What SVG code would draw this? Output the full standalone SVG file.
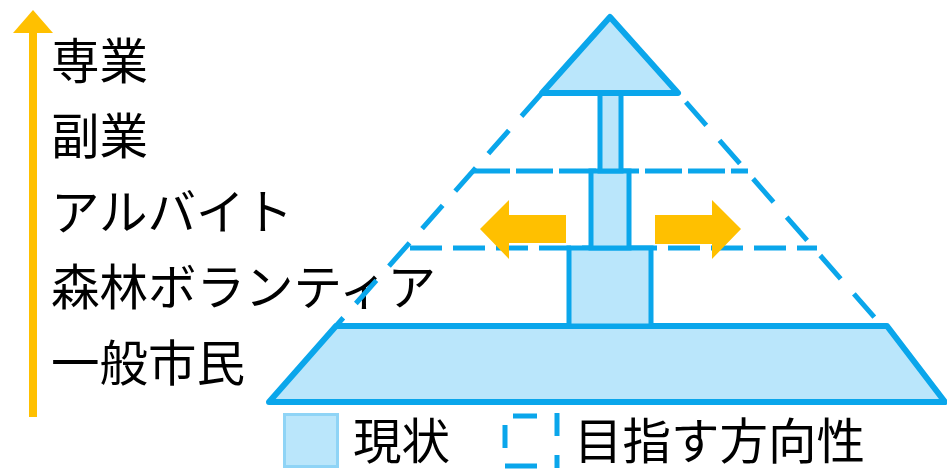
<svg xmlns="http://www.w3.org/2000/svg" width="947" height="469" viewBox="0 0 947 469">
  <style>
    .lbl { font-family: "Noto Sans CJK JP", "Noto Sans", sans-serif; font-size: 48.5px; fill: #000; }
    .solid { fill: #BAE6FB; stroke: #0AA6EB; stroke-width: 6; stroke-linejoin: round; }
    .box { fill: #BAE6FB; stroke: #0AA6EB; stroke-width: 5; }
    .dash { fill: none; stroke: #0AA6EB; stroke-width: 5; }
    .orange { fill: #FFC000; }
  </style>
  <rect width="947" height="469" fill="#fff"/>

  <g id="axis">
    <rect x="29" y="32" width="8" height="385" class="orange"/>
    <polygon points="33,10 53,33 13,33" class="orange"/>
  </g>

  <g id="labels">
    <text class="lbl" x="51" y="79">専業</text>
    <text class="lbl" x="51" y="154">副業</text>
    <text class="lbl" x="51" y="230">アルバイト</text>
    <text class="lbl" x="51" y="305">森林ボランティア</text>
    <text class="lbl" x="51" y="381">一般市民</text>
  </g>

  <g id="connectors">
    <line x1="542" y1="93" x2="336" y2="326" class="dash" stroke-dasharray="31 19"/>
    <line x1="678" y1="93" x2="882" y2="326" class="dash" stroke-dasharray="31 20" stroke-dashoffset="-12"/>
    <line x1="473" y1="171" x2="748" y2="171" class="dash" stroke-dasharray="37 6"/>
    <line x1="405" y1="248" x2="817" y2="248" class="dash" stroke-dasharray="32 11" stroke-dashoffset="-5"/>
  </g>

  <g id="base">
    <polygon points="269,402 336,326 887,326 945,402" class="solid"/>
  </g>
  <g id="box-volunteer">
    <rect x="569" y="248" width="82" height="78" class="box"/>
  </g>
  <g id="box-arbeit">
    <rect x="591" y="171" width="38" height="77" class="box"/>
  </g>
  <g id="box-side">
    <rect x="600" y="93" width="21" height="78" class="box"/>
  </g>
  <g id="top">
    <polygon points="610,17 678,93 542,93" class="solid"/>
  </g>

  <g id="arrow-left">
    <polygon points="480,229 509,200 509,215 566,215 566,243 509,243 509,259" class="orange"/>
  </g>
  <g id="arrow-right">
    <polygon points="741,229 712,200 712,215 655,215 655,244 712,244 712,259" class="orange"/>
  </g>

  <g id="legend-current">
    <rect x="284.5" y="414.5" width="53" height="52" fill="#BAE6FB" stroke="#8FD4F6" stroke-width="3"/>
    <text class="lbl" x="353" y="459">現状</text>
  </g>
  <g id="legend-target">
    <path d="M513,416 H537 M557,413 V436 M505,425 V448 M505,466 H537 M557,455 V468" fill="none" stroke="#0AA6EB" stroke-width="5"/>
    <text class="lbl" x="574" y="459">目指す方向性</text>
  </g>
</svg>
